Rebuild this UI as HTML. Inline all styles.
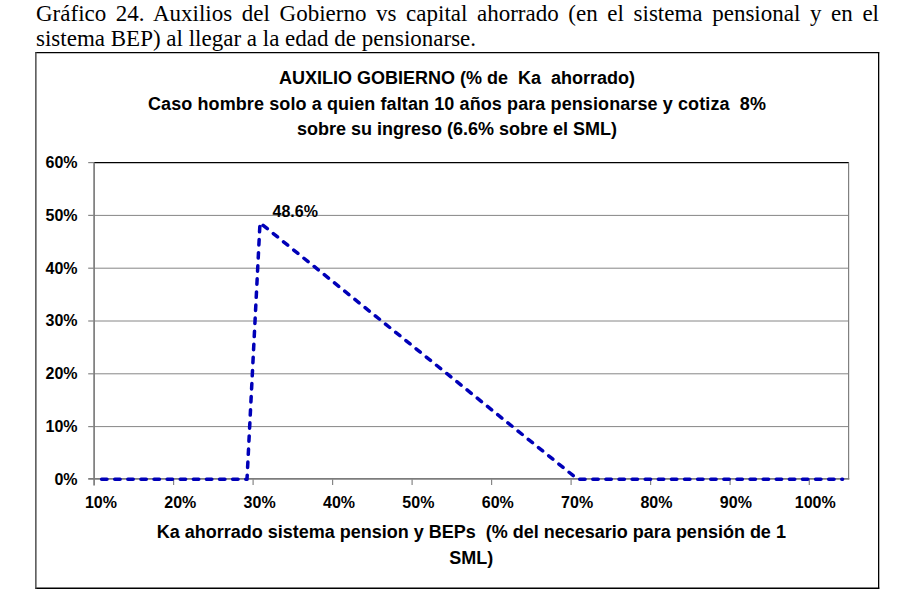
<!DOCTYPE html>
<html><head><meta charset="utf-8">
<style>
html,body{margin:0;padding:0;background:#fff;width:908px;height:602px;overflow:hidden;}
.hdr{position:absolute;left:36px;top:1px;width:843px;font-family:"Liberation Serif",serif;font-size:23px;line-height:25.4px;color:#000;}
.l1{text-align:justify;text-align-last:justify;white-space:nowrap;}
svg{position:absolute;left:0;top:0;}
svg text{white-space:pre;}
</style></head><body>
<div class="hdr"><div class="l1">Gráfico 24. Auxilios del Gobierno vs capital ahorrado (en el sistema pensional y en el</div><div>sistema BEP) al llegar a la edad de pensionarse.</div></div>
<svg width="908" height="602" viewBox="0 0 908 602">
  <!-- outer frame -->
  <g stroke-width="1.3">
    <line x1="35.2" y1="52.65" x2="879.3" y2="52.65" stroke="#000"/>
    <line x1="878.65" y1="52.2" x2="878.65" y2="588.8" stroke="#000"/>
    <line x1="35.2" y1="588.25" x2="879.3" y2="588.25" stroke="#000"/>
    <line x1="35.85" y1="52.2" x2="35.85" y2="588.8" stroke="#505050" stroke-width="1.5"/>
  </g>
  <!-- gridlines -->
  <g stroke="#868686" stroke-width="1">
    <line x1="94" y1="215.4" x2="848.6" y2="215.4"/>
    <line x1="94" y1="268.2" x2="848.6" y2="268.2"/>
    <line x1="94" y1="321" x2="848.6" y2="321"/>
    <line x1="94" y1="373.8" x2="848.6" y2="373.8"/>
    <line x1="94" y1="426.6" x2="848.6" y2="426.6"/>
  </g>
  <line x1="94" y1="162.6" x2="849" y2="162.6" stroke="#000" stroke-width="1.3"/>
  <line x1="848.6" y1="162.6" x2="848.6" y2="479.3" stroke="#808080" stroke-width="1.2"/>
  <!-- y axis -->
  <g stroke="#868686" stroke-width="1.2">
    <line x1="94.1" y1="162.6" x2="94.1" y2="485.5" stroke="#7c7c7c" stroke-width="1.7"/>
    <line x1="88.2" y1="478.9" x2="849.3" y2="478.9" stroke="#7c7c7c" stroke-width="1.9"/>
    <line x1="88.2" y1="162.6" x2="94" y2="162.6"/>
    <line x1="88.2" y1="215.4" x2="94" y2="215.4"/>
    <line x1="88.2" y1="268.2" x2="94" y2="268.2"/>
    <line x1="88.2" y1="321" x2="94" y2="321"/>
    <line x1="88.2" y1="373.8" x2="94" y2="373.8"/>
    <line x1="88.2" y1="426.6" x2="94" y2="426.6"/>
    <line x1="173.6" y1="479.3" x2="173.6" y2="485"/>
    <line x1="253.1" y1="479.3" x2="253.1" y2="485"/>
    <line x1="332.6" y1="479.3" x2="332.6" y2="485"/>
    <line x1="412.1" y1="479.3" x2="412.1" y2="485"/>
    <line x1="491.6" y1="479.3" x2="491.6" y2="485"/>
    <line x1="571.1" y1="479.3" x2="571.1" y2="485"/>
    <line x1="650.6" y1="479.3" x2="650.6" y2="485"/>
    <line x1="730.1" y1="479.3" x2="730.1" y2="485"/>
    <line x1="809.3" y1="479.3" x2="809.3" y2="485"/>
  </g>
  <!-- data line -->
  <polyline points="101.3,479.3 247,479.3 260,222.8 577.8,479.3 842.6,479.3" fill="none" stroke="#0000b8" stroke-width="3.5" stroke-linecap="round" stroke-linejoin="round" stroke-dasharray="5.4 7.705" stroke-dashoffset="12.805"/>
  <!-- titles -->
  <g font-family="Liberation Sans, sans-serif" font-weight="700" fill="#000" font-size="18" text-anchor="middle">
    <text x="457" y="83.8">AUXILIO GOBIERNO (% de  Ka  ahorrado)</text>
    <text x="457" y="109.8" letter-spacing="0.1">Caso hombre solo a quien faltan 10 años para pensionarse y cotiza  8%</text>
    <text x="457" y="134.9">sobre su ingreso (6.6% sobre el SML)</text>
    <text x="471.3" y="537.6">Ka ahorrado sistema pension y BEPs  (% del necesario para pensión de 1</text>
    <text x="471.3" y="564">SML)</text>
  </g>
  <g font-family="Liberation Sans, sans-serif" font-weight="700" fill="#000" font-size="16" text-anchor="end">
    <text x="77.6" y="168">60%</text>
    <text x="77.6" y="220.8">50%</text>
    <text x="77.6" y="273.6">40%</text>
    <text x="77.6" y="326.4">30%</text>
    <text x="77.6" y="379.2">20%</text>
    <text x="77.6" y="432">10%</text>
    <text x="77.6" y="484.8">0%</text>
  </g>
  <g font-family="Liberation Sans, sans-serif" font-weight="700" fill="#000" font-size="16" text-anchor="middle">
    <text x="100.9" y="508">10%</text>
    <text x="180.27" y="508">20%</text>
    <text x="259.64" y="508">30%</text>
    <text x="339.01" y="508">40%</text>
    <text x="418.38" y="508">50%</text>
    <text x="497.75" y="508">60%</text>
    <text x="577.12" y="508">70%</text>
    <text x="656.49" y="508">80%</text>
    <text x="735.86" y="508">90%</text>
    <text x="815.23" y="508">100%</text>
  </g>
  <text x="272.5" y="217" font-family="Liberation Sans, sans-serif" font-weight="700" font-size="16" fill="#000">48.6%</text>
</svg>
</body></html>
